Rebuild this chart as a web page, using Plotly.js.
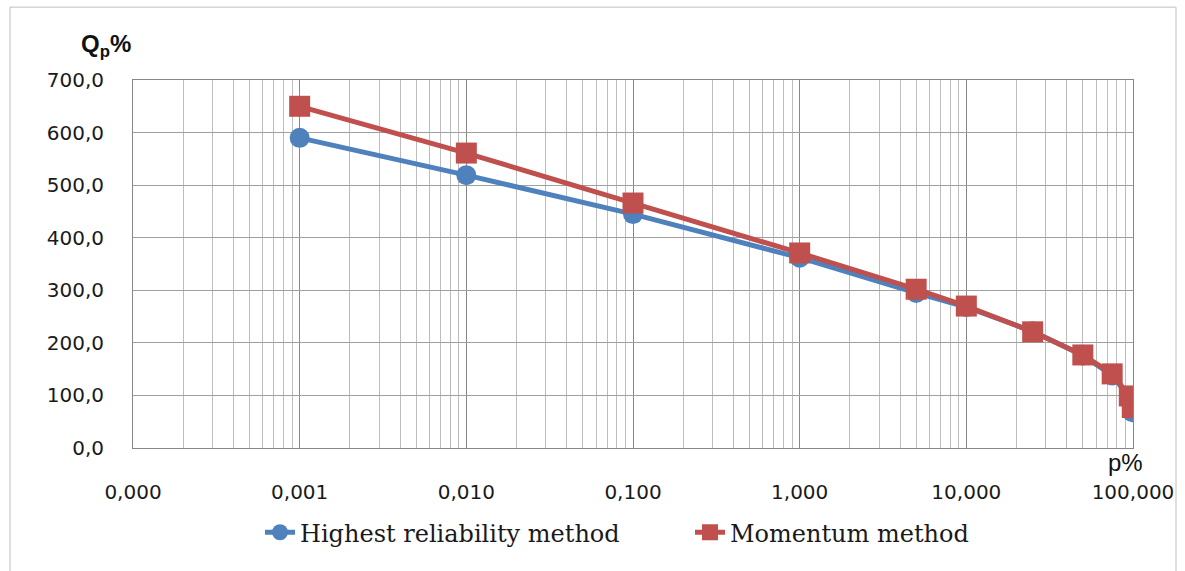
<!DOCTYPE html>
<html>
<head>
<meta charset="utf-8">
<script src="https://cdn.plot.ly/plotly-3.0.1.min.js"></script>
<style>html,body{margin:0;padding:0;background:#fff;}#chart{width:1185px;height:571px;}</style>
</head>
<body>
<div id="chart"></div>
<script>
// ---- data ----
var pPercent = [0.001, 0.01, 0.1, 1, 5, 10, 25, 50, 75, 95, 99];
var highestReliability = [590, 519, 445, 362, 295, 268, 222, 176, 138, 97, 68];
var momentum = [650, 561, 466, 371, 302, 270, 221, 177, 141, 99, 77];
var seriesNames = ["Highest reliability method", "Momentum method"];
var xTickVals = [0.0001, 0.001, 0.01, 0.1, 1, 10, 100];
var xTickText = ["0,000", "0,001", "0,010", "0,100", "1,000", "10,000", "100,000"];
var yTickVals = [0, 100, 200, 300, 400, 500, 600, 700];
var yTickText = ["0,0", "100,0", "200,0", "300,0", "400,0", "500,0", "600,0", "700,0"];

// minor grid positions (2..9 within each decade)
var minorVals = [];
for (var e = -4; e < 2; e++) {
  for (var m = 2; m <= 9; m++) minorVals.push(m * Math.pow(10, e));
}

var blue = "#4F81BD", red = "#C0504D";
var traces = [
  {x: pPercent, y: highestReliability, name: seriesNames[0], type: "scatter", mode: "lines+markers",
   line: {color: blue, width: 5}, marker: {symbol: "circle", size: 20, color: blue}},
  {x: pPercent, y: momentum, name: seriesNames[1], type: "scatter", mode: "lines+markers",
   line: {color: red, width: 5}, marker: {symbol: "square", size: 21, color: red}}
];

var tickFont = {family: "DejaVu Sans", size: 20, color: "#1a1a1a"};
var layout = {
  width: 1185, height: 571,
  margin: {l: 133, r: 52, t: 80, b: 123},
  paper_bgcolor: "#fff", plot_bgcolor: "#fff",
  showlegend: true,
  legend: {orientation: "h", x: 0.127, xanchor: "left", y: -0.23, yanchor: "middle",
           entrywidthmode: "pixels", entrywidth: 385,
           font: {family: "DejaVu Serif", size: 24, color: "#1a1a1a"}},
  xaxis: {type: "log", range: [-4, 2], tickmode: "array", tickvals: xTickVals, ticktext: xTickText,
          tickfont: tickFont, ticks: "", ticklabelstandoff: 26,
          showgrid: true, gridcolor: "#878787", gridwidth: 1,
          minor: {tickmode: "array", tickvals: minorVals, showgrid: true, gridcolor: "#bdbdbd", gridwidth: 1, ticks: ""},
          showline: true, linecolor: "#878787", mirror: true, zeroline: false},
  yaxis: {range: [0, 700], tickmode: "array", tickvals: yTickVals, ticktext: yTickText,
          tickfont: tickFont, ticks: "", ticklabelstandoff: 24,
          showgrid: true, gridcolor: "#a0a0a0", gridwidth: 1,
          showline: true, linecolor: "#878787", mirror: true, zeroline: false},
  annotations: [
    {text: "<b>Q<sub>p</sub>%</b>", xref: "paper", yref: "paper", x: -0.054, y: 1.095,
     xanchor: "left", yanchor: "middle", showarrow: false,
     font: {family: "Liberation Sans", size: 24, color: "#111"}},
    {text: "p%", xref: "paper", yref: "paper", x: 0.992, y: -0.04,
     xanchor: "center", yanchor: "middle", showarrow: false,
     font: {family: "Liberation Sans", size: 24, color: "#111"}}
  ],
  shapes: [
    {type: "rect", xref: "paper", yref: "paper", x0: -0.123, x1: 1.043, y0: -0.36, y1: 1.198,
     line: {color: "#bfbfbf", width: 1}, fillcolor: "rgba(0,0,0,0)", layer: "below"}
  ]
};

Plotly.newPlot("chart", traces, layout, {displayModeBar: false, staticPlot: true});
</script>
</body>
</html>
